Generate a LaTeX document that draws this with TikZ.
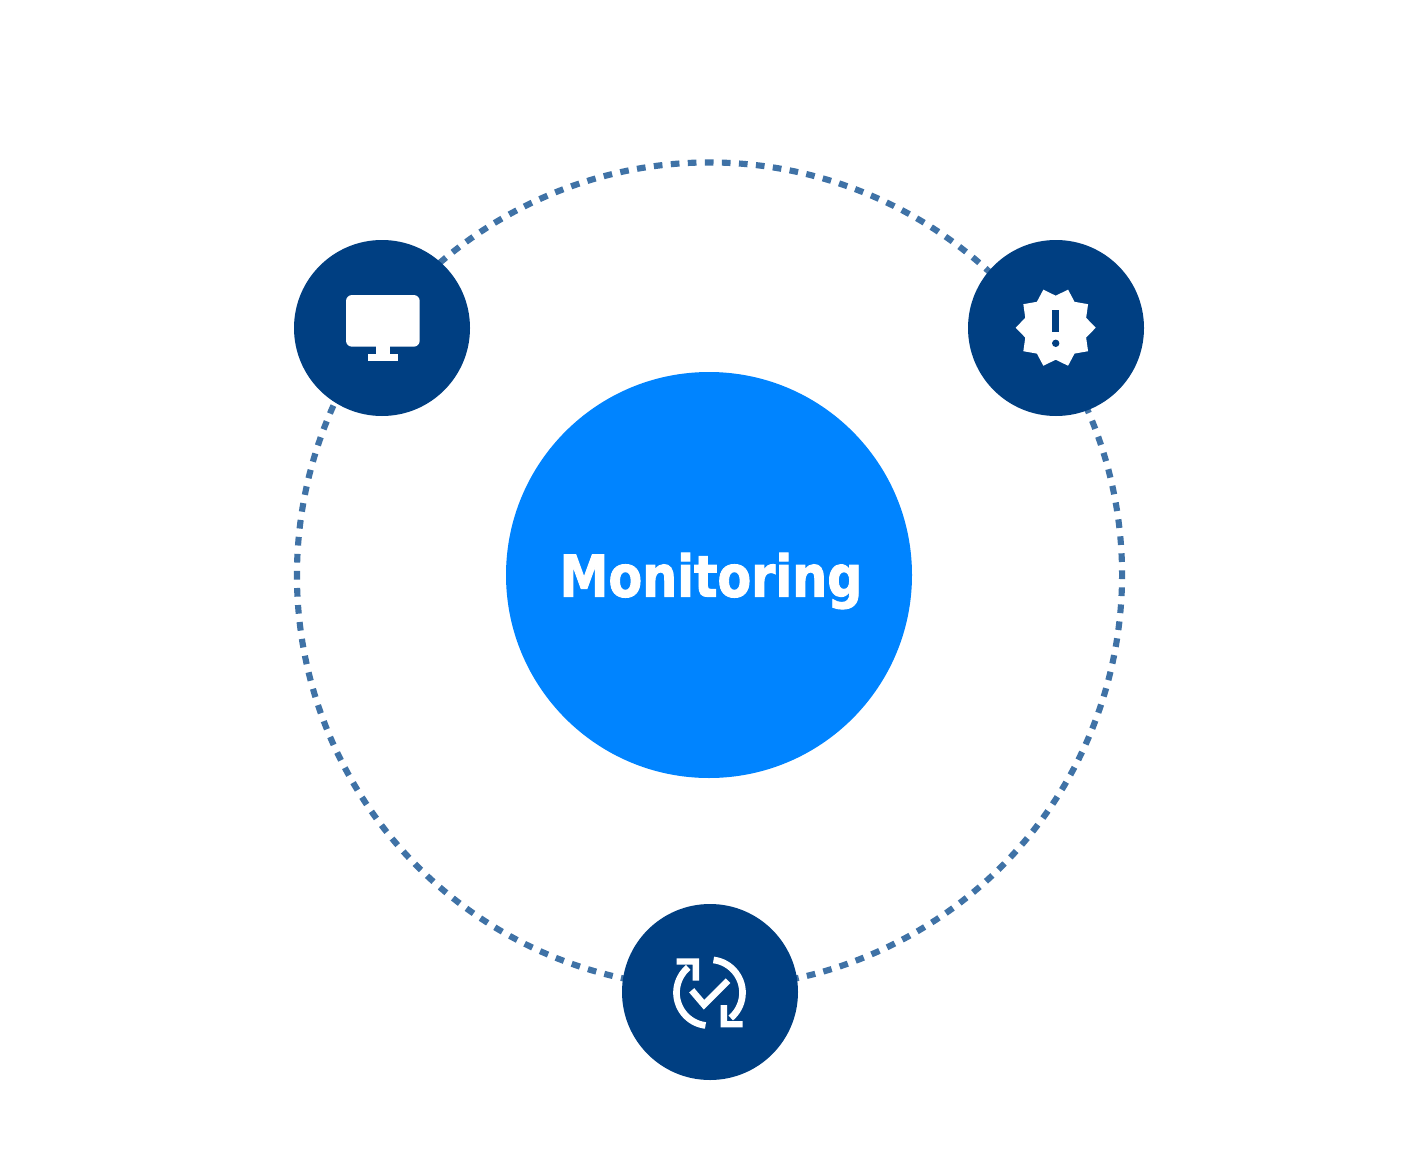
\documentclass[tikz,border=0pt]{standalone}
\usepackage{fontspec}
\usetikzlibrary{calc}
\setmainfont{DejaVu Sans}[BoldFeatures={FakeBold=1.8}]
\definecolor{navy}{HTML}{003F82}
\definecolor{azure}{HTML}{0084FF}
\definecolor{ringblue}{HTML}{3F72A6}
\tikzset{
  hub/.style={circle,fill=azure,draw=none,minimum size=304.5pt,inner sep=0pt},
  title/.style={text=white,inner sep=0pt,anchor=base},
  badge/.style={circle,fill=navy,draw=none,minimum size=132pt,inner sep=0pt},
  ring/.style={draw=ringblue,line width=4.6pt,dash pattern=on 6.5pt off 6.29pt},
  glyph/.style={fill=white,draw=none},
  stroke/.style={draw=white,line width=5pt,fill=none}
}
\begin{document}
\begin{tikzpicture}[x=.75pt,y=-.75pt]
\useasboundingbox (0,0) rectangle (1420,1152);
\fill[white] (0,0) rectangle (1420,1152);
% ring
\coordinate (ringc) at (709.5,575);
\draw[ring] (ringc) ++(243.3:412.5) arc[start angle=243.3,end angle=603.3,radius=412.5];
% circles
\node[hub] (centre) at (709,575) {};
\node[title] (label) at (711,596.7) {\resizebox{227pt}{32.8pt}{\bfseries Monitoring}};
\node[badge] (screen) at (382,328) {};
\node[badge] (alert) at (1056,328) {};
\node[badge] (sync) at (710,992) {};
% monitor icon
\fill[glyph,rounded corners=4.5pt] (346,295) rectangle (419.7,346.7);
\fill[glyph] (376,345) rectangle (390.3,355);
\fill[glyph] (368.3,354) rectangle (397.7,361.3);
% alert icon
\coordinate (alertc) at (1055.7,327.7);
\fill[glyph] ($(alertc)+(0:40)$) 
  \foreach \k in {0,...,9} { -- ($(alertc)+({36*\k}:40)$) -- ($(alertc)+({36*\k+18}:32)$) } -- cycle;
\fill[navy] (1052,310) rectangle (1059.3,332.3);
\fill[navy] (1055.7,343.3) circle[radius=3.7];
% sync icon
\coordinate (syncc) at (709.5,992.7);
\draw[stroke] (syncc) ++(-83:33) arc[start angle=-83,end angle=50,radius=33];
\draw[stroke] (syncc) ++(97:33) arc[start angle=97,end angle=230,radius=33];
\fill[glyph] (720.7,1005) -- (727,1005) -- (727,1021) -- (742.7,1021) -- (742.7,1027.3) -- (720.7,1027.3) -- cycle;
\fill[glyph] (699,980.7) -- (692.7,980.7) -- (692.7,964.6) -- (676.7,964.6) -- (676.7,958.3) -- (699,958.3) -- cycle;
\draw[stroke] (691.7,990.3) -- (704,1004.7) -- (728,980.7);
\end{tikzpicture}
\end{document}
